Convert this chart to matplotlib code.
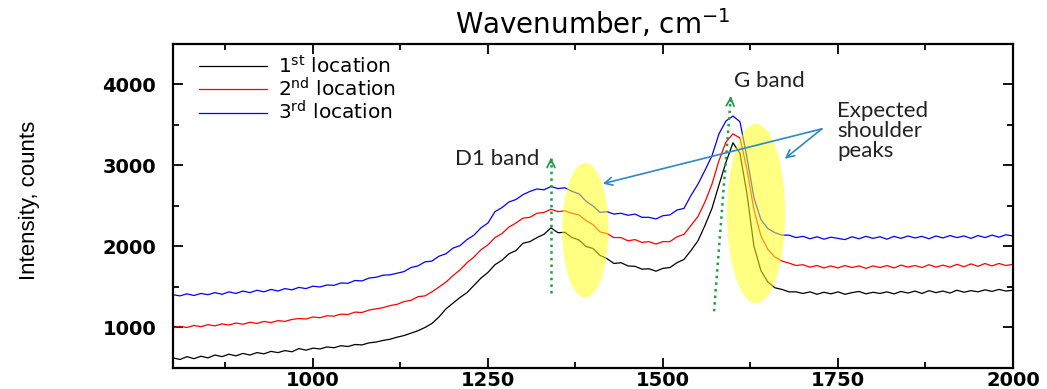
import numpy as np
import matplotlib
matplotlib.use("Agg")
import matplotlib.pyplot as plt
from matplotlib.patches import Ellipse

wavenumber = list(range(800, 2001, 10))

loc1 = [625, 605, 640, 615, 645, 625, 660, 640, 670, 650,
        680, 660, 690, 675, 705, 690, 715, 700, 740, 720,
        745, 735, 760, 750, 775, 765, 790, 785, 810, 820,
        840, 855, 880, 900, 930, 960, 1000, 1050, 1130, 1230,
        1300, 1370, 1430, 1520, 1610, 1680, 1775, 1830, 1910, 1950,
        2040, 2060, 2110, 2150, 2230, 2170, 2175, 2110, 2080, 2000,
        1975, 1890, 1850, 1790, 1800, 1760, 1755, 1720, 1725, 1695,
        1730, 1740, 1800, 1840, 1950, 2070, 2260, 2470, 2760, 3040,
        3280, 3150, 2650, 2000, 1700, 1560, 1490, 1470, 1440, 1440,
        1420, 1440, 1410, 1435, 1415, 1440, 1410, 1430, 1445, 1415,
        1435, 1420, 1440, 1415, 1445, 1425, 1450, 1420, 1455, 1430,
        1450, 1425, 1460, 1435, 1455, 1440, 1465, 1445, 1470, 1450, 1460]

loc2 = [995, 1015, 1000, 1025, 1010, 1035, 1020, 1045, 1030, 1055,
        1040, 1065, 1050, 1075, 1060, 1085, 1075, 1100, 1110, 1105,
        1130, 1120, 1145, 1140, 1165, 1160, 1190, 1185, 1215, 1230,
        1245, 1270, 1285, 1320, 1335, 1380, 1390, 1440, 1500, 1560,
        1640, 1710, 1800, 1870, 1960, 2020, 2110, 2160, 2240, 2290,
        2350, 2360, 2410, 2420, 2460, 2430, 2440, 2410, 2390, 2320,
        2270, 2180, 2160, 2110, 2110, 2070, 2085, 2050, 2060, 2030,
        2060, 2060, 2120, 2150, 2260, 2370, 2550, 2770, 3060, 3290,
        3390, 3340, 2950, 2450, 2130, 1960, 1870, 1820, 1795, 1765,
        1775, 1745, 1765, 1735, 1760, 1735, 1765, 1740, 1760, 1730,
        1760, 1740, 1765, 1735, 1770, 1745, 1765, 1740, 1775, 1745,
        1770, 1745, 1780, 1750, 1785, 1755, 1790, 1760, 1790, 1765, 1780]

loc3 = [1405, 1390, 1415, 1395, 1420, 1405, 1430, 1410, 1440, 1420,
        1450, 1430, 1460, 1440, 1470, 1450, 1480, 1465, 1495, 1480,
        1510, 1500, 1525, 1520, 1550, 1545, 1580, 1575, 1610, 1620,
        1645, 1650, 1670, 1690, 1740, 1760, 1810, 1820, 1880, 1910,
        1980, 2010, 2085, 2140, 2230, 2290, 2430, 2480, 2550, 2580,
        2640, 2680, 2710, 2700, 2740, 2715, 2725, 2680, 2650, 2560,
        2500, 2420, 2430, 2400, 2410, 2385, 2400, 2360, 2360, 2340,
        2380, 2390, 2450, 2470, 2630, 2770, 2940, 3120, 3390, 3550,
        3610, 3540, 3100, 2600, 2330, 2220, 2170, 2140, 2140, 2110,
        2125, 2095, 2120, 2090, 2115, 2100, 2085, 2120, 2095, 2125,
        2100, 2120, 2090, 2125, 2100, 2130, 2105, 2125, 2095, 2130,
        2105, 2135, 2110, 2130, 2100, 2135, 2110, 2140, 2115, 2145, 2130]

labels = [r"1$^{\mathregular{st}}$ location",
          r"2$^{\mathregular{nd}}$ location",
          r"3$^{\mathregular{rd}}$ location"]
colors = ["black", "red", "blue"]

xticks = [1000, 1250, 1500, 1750, 2000]
yticks = [1000, 2000, 3000, 4000]

fig = plt.figure(figsize=(10.47, 3.89), dpi=100)
ax = fig.add_axes([0.1652, 0.054, 0.8023, 0.833])

for ys, c, lab in zip([loc1, loc2, loc3], colors, labels):
    ax.plot(wavenumber, ys, color=c, lw=0.9, label=lab)

ax.set_xlim(800, 2000)
ax.set_ylim(500, 4500)
ax.set_xticks(xticks)
ax.set_yticks(yticks)
ax.set_xticks(np.arange(875, 2000, 125), minor=True)
ax.set_yticks(np.arange(500, 4600, 500), minor=True)
ax.tick_params(which="both", direction="in", top=True, right=True, width=1.3)
ax.tick_params(which="major", length=7)
ax.tick_params(which="minor", length=4)
ax.tick_params(axis="y", pad=12)
ax.tick_params(axis="x", pad=2)
for lab in ax.get_xticklabels() + ax.get_yticklabels():
    lab.set_fontweight("bold")
    lab.set_fontsize(14)
    lab.set_family("DejaVu Sans")
for sp in ax.spines.values():
    sp.set_linewidth(1.6)

ax.set_title(r"Wavenumber, cm$^{\mathregular{-1}}$", fontsize=20, pad=7,
             family="DejaVu Sans")
fig.text(0.028, 0.486, "Intensity, counts", rotation=90, ha="center",
         va="center", fontsize=16, family="Liberation Sans")

leg = ax.legend(loc="upper left", bbox_to_anchor=(0.031, 0.965), frameon=False,
                fontsize=14.5, handlelength=3.4, labelspacing=0.0,
                handletextpad=0.5, borderaxespad=0.0, borderpad=0.0)
for t in leg.get_texts():
    t.set_family("DejaVu Sans")

# yellow shoulder ellipses
ax.add_patch(Ellipse((1389, 2200), 66, 1660, facecolor=(1, 1, 0.1),
                     alpha=0.55, edgecolor="none", zorder=5))
ax.add_patch(Ellipse((1633, 2406), 83, 2214, facecolor=(1, 1, 0.1),
                     alpha=0.55, edgecolor="none", zorder=5))

green = "#1f9e4a"
ax.plot([1340, 1340], [1420, 3100], ls=":", color=green, lw=1.8, zorder=6)
ax.annotate("", xy=(1340, 3130), xytext=(1340, 3000),
            arrowprops=dict(arrowstyle="->", color=green, lw=1.3,
                            mutation_scale=14), zorder=6)
ax.plot([1573, 1597], [1200, 3860], ls=":", color=green, lw=1.8, zorder=6)
ax.annotate("", xy=(1597.3, 3890), xytext=(1596.2, 3760),
            arrowprops=dict(arrowstyle="->", color=green, lw=1.3,
                            mutation_scale=14), zorder=6)

afont = dict(family="Lato", fontsize=16, color="#222222")
ax.text(1324, 3083, "D1 band", ha="right", va="center", **afont)
ax.text(1602, 4042, "G band", ha="left", va="center", **afont)
ax.text(1749, 3800, "Expected\nshoulder\npeaks", ha="left", va="top",
        linespacing=1.0, **afont)

arrow_c = "#2f86c8"
for tgt in [(1414, 2775), (1674, 3083)]:
    ax.annotate("", xy=tgt, xytext=(1727, 3452),
                arrowprops=dict(arrowstyle="->", color=arrow_c, lw=1.2,
                                mutation_scale=14, shrinkA=0, shrinkB=0),
                zorder=7)

fig.savefig("out.png", dpi=100)
